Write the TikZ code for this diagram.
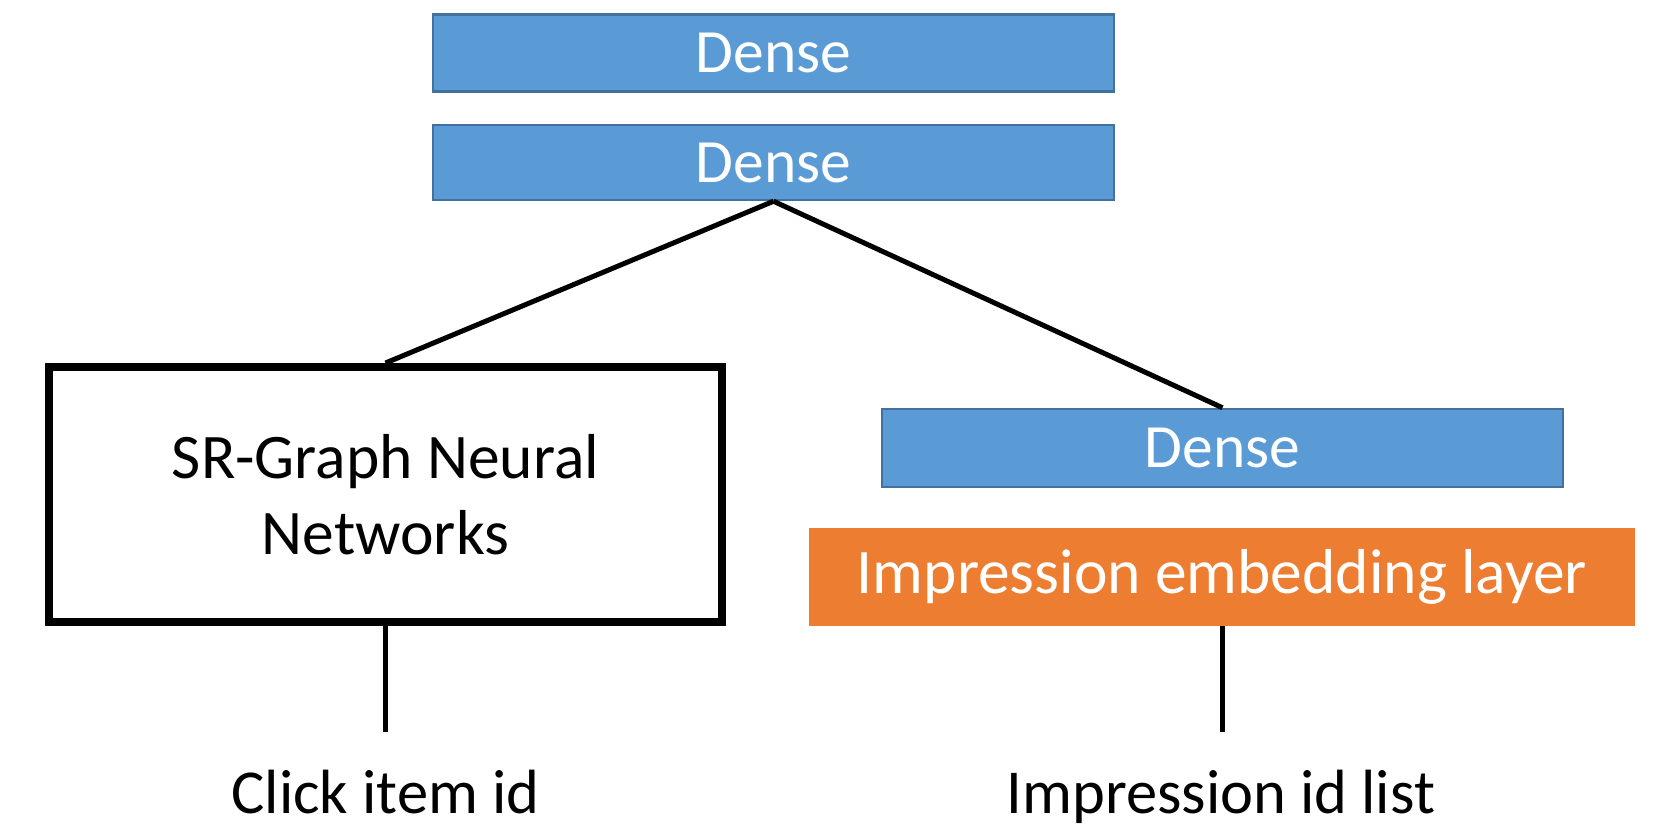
\documentclass[tikz,border=0pt]{standalone}
\usepackage{fontspec}
\setmainfont{Carlito}
\definecolor{dblue}{HTML}{5B9BD5}
\definecolor{dblueedge}{HTML}{41719C}
\definecolor{dorange}{HTML}{ED7D31}
\begin{document}
\begin{tikzpicture}[x=1pt,y=-1pt,
  densebox/.style={draw=dblueedge,line width=2.5pt,fill=dblue,text=white,minimum width=681pt,minimum height=77pt,inner sep=0pt,font=\fontsize{61.5}{70}\selectfont},
  conn/.style={line width=5pt,black},
  lbl/.style={font=\fontsize{62.5}{70}\selectfont,inner sep=0pt,anchor=base}]
\useasboundingbox (0,0) rectangle (1665,833);
\node[densebox] (d1) at (773.5,53) {Dense};
\node[densebox,minimum height=75pt] (d2) at (773.5,162.5) {Dense};
\node[draw=black,line width=8pt,minimum width=673pt,minimum height=255pt,inner sep=0pt,align=center,font=\fontsize{63.5}{76}\selectfont] (sr) at (385.5,494.5) {SR-Graph Neural\\Networks};
\node[densebox,minimum height=78pt] (d3) at (1222.5,448) {Dense};
\node[fill=dorange,text=white,minimum width=826pt,minimum height=98pt,inner sep=0pt,font=\fontsize{63.5}{72}\selectfont] (emb) at (1222,577) {Impression embedding layer};
\coordinate (c1) at (385.5,732);
\coordinate (c2) at (1222,732);
\draw[conn] (d2.south) -- (sr.north);
\draw[conn] (d2.south) -- (d3.north);
\draw[conn] (sr.south) -- (c1);
\draw[conn] (emb.south) -- (c2);
\node[lbl] (t1) at (385.5,813) {Click item id};
\node[lbl] (t2) at (1221,813) {Impression id list};
\end{tikzpicture}
\end{document}
